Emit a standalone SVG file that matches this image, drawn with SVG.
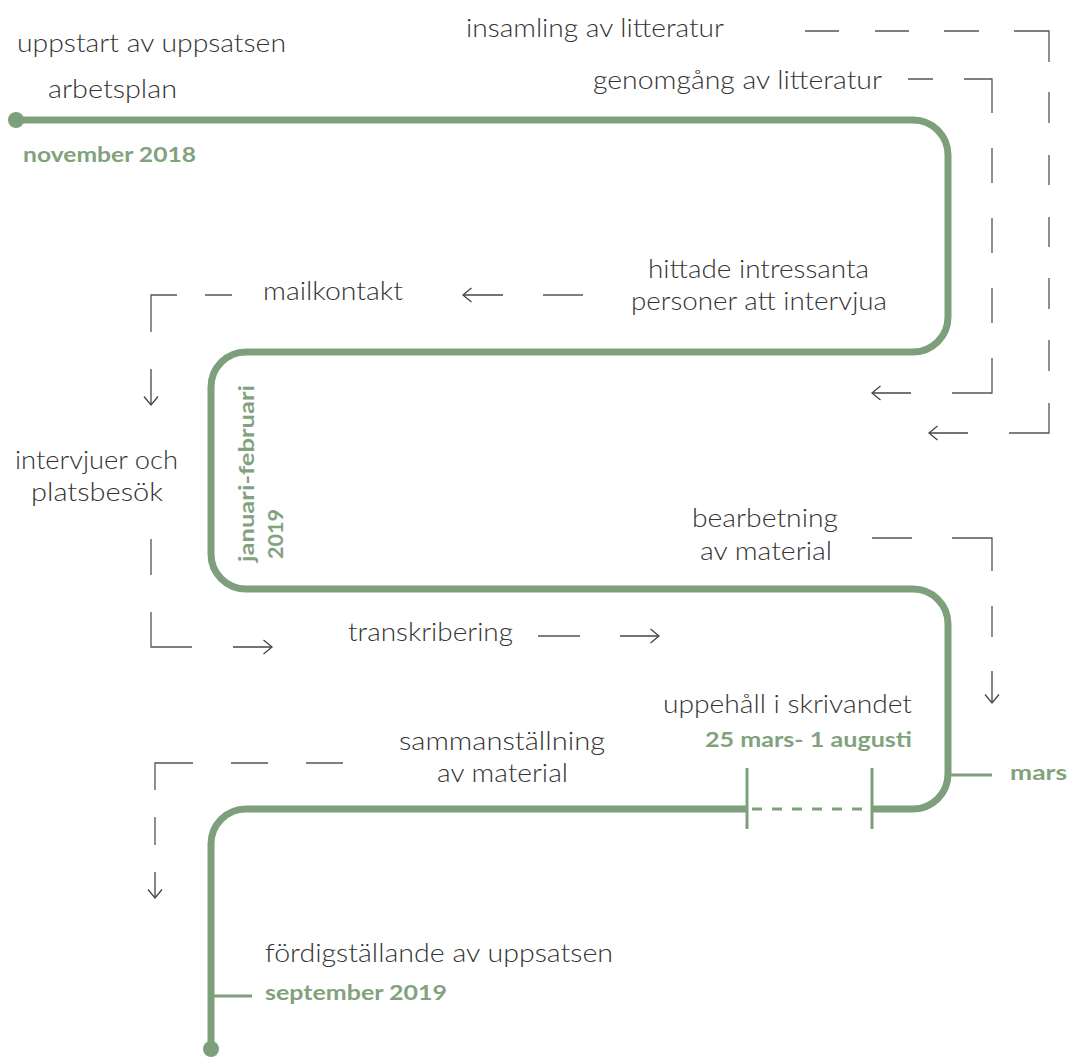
<svg xmlns="http://www.w3.org/2000/svg" width="1068" height="1057" viewBox="0 0 1068 1057">
<style>
.t{font-family:"Lato","Liberation Sans",sans-serif;font-weight:300;font-size:25px;fill:#333}
.g{font-family:"Lato","Liberation Sans",sans-serif;font-weight:700;font-size:20px;fill:#82a27e}
.road{fill:none;stroke:#7e9f7b;stroke-width:7;stroke-linecap:butt}
.tick{fill:none;stroke:#7e9f7b;stroke-width:3}
.c{fill:none;stroke:#555;stroke-width:1.3}
.a{fill:none;stroke:#444;stroke-width:1.3;marker-end:url(#ah)}
</style>
<defs>
<marker id="ah" markerUnits="userSpaceOnUse" markerWidth="12" markerHeight="18" refX="10" refY="9" orient="auto">
<path d="M1.5,2 L10,9 L1.5,16" fill="none" stroke="#444" stroke-width="1.3"/>
</marker>
</defs>
<rect width="1068" height="1057" fill="#fff"/>

<g id="timeline">
<path class="road" d="M16,120 H913 A35,35 0 0 1 948,155 V317 A35,35 0 0 1 913,352 H246 A35,35 0 0 0 211,387 V554 A35,35 0 0 0 246,589 H913 A35,35 0 0 1 948,624 V774 A35,35 0 0 1 913,809 H872"/>
<path class="road" d="M747,809 H246 A35,35 0 0 0 211,844 V1049"/>
<path class="tick" d="M752,809 H868" stroke-dasharray="10 10"/>
<path class="tick" d="M747,768 V829 M872,768 V829"/>
<path class="tick" d="M948,775 H992"/>
<path class="tick" d="M211,996 H252"/>
<circle cx="16" cy="120" r="8" fill="#7e9f7b"/>
<circle cx="211" cy="1049" r="8" fill="#7e9f7b"/>
</g>

<g id="connectors">
<path class="c" d="M805,31 H839 M875,31 H909 M944,31 H979 M1014,31 H1049 V62 M1049,92 V123 M1049,155 V185 M1049,217 V247 M1049,278 V309 M1049,340 V371 M1049,403 V433 H1009"/>
<line class="a" x1="968" y1="433" x2="929" y2="433"/>
<path class="c" d="M908,79 H933 M964,79 H992 V113 M992,148 V183 M992,218 V253 M992,288 V323 M992,358 V393 H952"/>
<line class="a" x1="911" y1="393" x2="872" y2="393"/>
<path class="c" d="M583,295 H543"/>
<line class="a" x1="503" y1="295" x2="463" y2="295"/>
<path class="c" d="M232,295 H205 M177,295 H151 V332"/>
<line class="a" x1="151" y1="369" x2="151" y2="405"/>
<path class="c" d="M151,539 V575 M151,612 V647 H192"/>
<line class="a" x1="233" y1="647" x2="272" y2="647"/>
<path class="c" d="M538,636 H580"/>
<line class="a" x1="620" y1="636" x2="659" y2="636"/>
<path class="c" d="M872,538 H912 M952,538 H992 V571 M992,606 V637"/>
<line class="a" x1="992" y1="671" x2="992" y2="703"/>
<path class="c" d="M343,763 H306 M268,763 H231 M193,763 H155 V790 M155,817 V845"/>
<line class="a" x1="155" y1="872" x2="155" y2="898"/>
</g>

<g id="n-uppstart"><text class="t" x="17" y="52" textLength="269" lengthAdjust="spacingAndGlyphs">uppstart av uppsatsen</text></g>
<g id="n-arbetsplan"><text class="t" x="48" y="98" textLength="129" lengthAdjust="spacingAndGlyphs">arbetsplan</text></g>
<g id="n-november"><text class="g" x="23" y="162" textLength="173" lengthAdjust="spacingAndGlyphs">november 2018</text></g>
<g id="n-insamling"><text class="t" x="466" y="37" textLength="258" lengthAdjust="spacingAndGlyphs">insamling av litteratur</text></g>
<g id="n-genomgang"><text class="t" x="593" y="89" textLength="289" lengthAdjust="spacingAndGlyphs">genomgång av litteratur</text></g>
<g id="n-hittade">
<text class="t" x="648" y="278" textLength="221" lengthAdjust="spacingAndGlyphs">hittade intressanta</text>
<text class="t" x="631" y="310" textLength="256" lengthAdjust="spacingAndGlyphs">personer att intervjua</text>
</g>
<g id="n-mailkontakt"><text class="t" x="263" y="300" textLength="140" lengthAdjust="spacingAndGlyphs">mailkontakt</text></g>
<g id="n-intervjuer">
<text class="t" x="15" y="469" textLength="163" lengthAdjust="spacingAndGlyphs">intervjuer och</text>
<text class="t" x="31" y="501" textLength="132" lengthAdjust="spacingAndGlyphs">platsbesök</text>
</g>
<g id="n-januari">
<text class="g" style="font-size:21px" transform="translate(254,562) rotate(-90)" x="0" y="0" textLength="177" lengthAdjust="spacingAndGlyphs">januari-februari</text>
<text class="g" style="font-size:21px" transform="translate(283,559) rotate(-90)" x="0" y="0" textLength="50" lengthAdjust="spacingAndGlyphs">2019</text>
</g>
<g id="n-transkribering"><text class="t" x="348" y="641" textLength="165" lengthAdjust="spacingAndGlyphs">transkribering</text></g>
<g id="n-bearbetning">
<text class="t" x="692" y="527" textLength="146" lengthAdjust="spacingAndGlyphs">bearbetning</text>
<text class="t" x="700" y="560" textLength="132" lengthAdjust="spacingAndGlyphs">av material</text>
</g>
<g id="n-uppehall">
<text class="t" x="663" y="713" textLength="249" lengthAdjust="spacingAndGlyphs">uppehåll i skrivandet</text>
<text class="g" x="705" y="747" textLength="207" lengthAdjust="spacingAndGlyphs">25 mars- 1 augusti</text>
</g>
<g id="n-mars"><text class="g" x="1010" y="780" textLength="57" lengthAdjust="spacingAndGlyphs">mars</text></g>
<g id="n-sammanstallning">
<text class="t" x="399" y="750" textLength="206" lengthAdjust="spacingAndGlyphs">sammanställning</text>
<text class="t" x="437" y="782" textLength="131" lengthAdjust="spacingAndGlyphs">av material</text>
</g>
<g id="n-fordigstallande">
<text class="t" x="265" y="962" textLength="348" lengthAdjust="spacingAndGlyphs">fördigställande av uppsatsen</text>
<text class="g" x="265" y="1000" textLength="182" lengthAdjust="spacingAndGlyphs">september 2019</text>
</g>
</svg>
